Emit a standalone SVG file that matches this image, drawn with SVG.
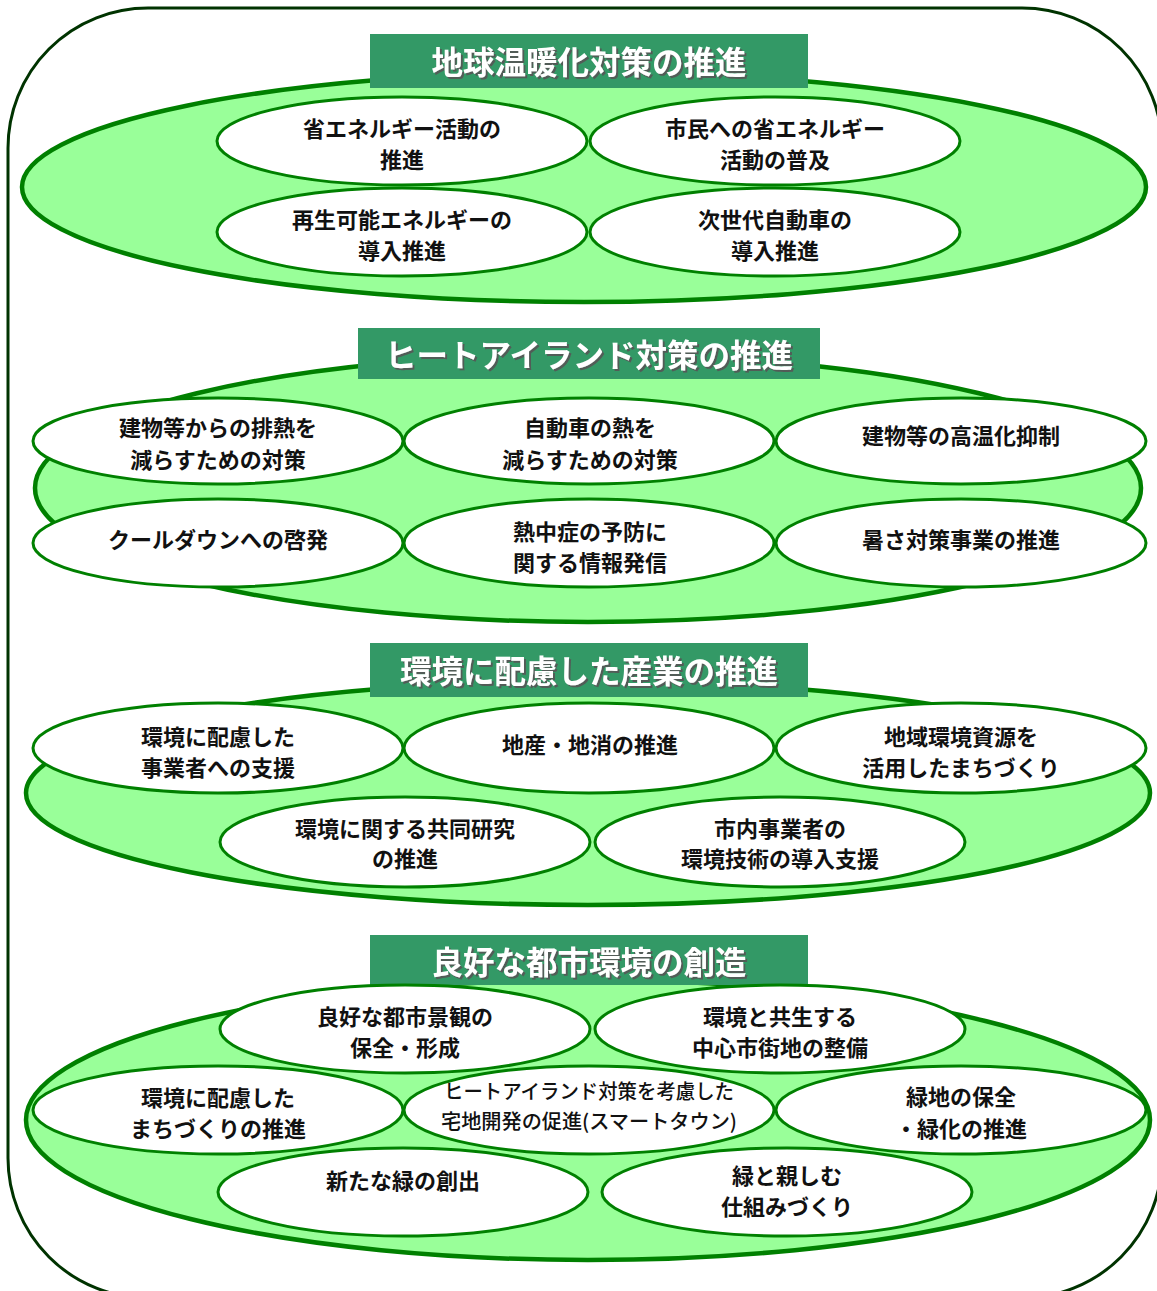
<svg xmlns="http://www.w3.org/2000/svg" width="1157" height="1291" viewBox="0 0 1157 1291">
<defs>
<filter id="sh" x="-10%" y="-30%" width="120%" height="160%">
<feDropShadow dx="2" dy="2" stdDeviation="0.6" flood-color="#555555" flood-opacity="0.9"/>
</filter>
<style>
.frame{fill:#ffffff;stroke:#003300;stroke-width:3}
.big{fill:#99ff99;stroke:#008000;stroke-width:4.5}
.in{fill:#ffffff;stroke:#008000;stroke-width:3}
.bar{fill:#339966}
.tt{font-family:"Noto Sans CJK JP","Noto Sans CJK SC",sans-serif;font-size:31.5px;font-weight:bold;fill:#ffffff;text-anchor:middle;dominant-baseline:central;filter:url(#sh)}
.t{font-family:"Noto Sans CJK JP","Noto Sans CJK SC",sans-serif;font-size:22px;font-weight:bold;fill:#111111;text-anchor:middle;dominant-baseline:central}
.tn{font-family:"Noto Sans CJK JP","Noto Sans CJK SC",sans-serif;font-size:20px;font-weight:500;fill:#111111;text-anchor:middle;dominant-baseline:central}
</style>
</defs>
<rect width="1157" height="1291" fill="#ffffff"/>
<rect class="frame" x="8" y="8" width="1154" height="1290" rx="140" ry="140"/>

<g id="section1">
<ellipse class="big" cx="584" cy="187" rx="562" ry="115"/>
<g id="bar1"><rect class="bar" x="370" y="34" width="438" height="54"/><text class="tt" x="589" y="60">地球温暖化対策の推進</text></g>
<g id="n1-1"><ellipse class="in" cx="402" cy="141" rx="185" ry="44"/><text class="t" x="402" y="127">省エネルギー活動の</text><text class="t" x="402" y="158">推進</text></g>
<g id="n1-2"><ellipse class="in" cx="775" cy="141" rx="185" ry="44"/><text class="t" x="775" y="127">市民への省エネルギー</text><text class="t" x="775" y="158">活動の普及</text></g>
<g id="n1-3"><ellipse class="in" cx="402" cy="232" rx="185" ry="44"/><text class="t" x="402" y="218">再生可能エネルギーの</text><text class="t" x="402" y="249">導入推進</text></g>
<g id="n1-4"><ellipse class="in" cx="775" cy="232" rx="185" ry="44"/><text class="t" x="775" y="218">次世代自動車の</text><text class="t" x="775" y="249">導入推進</text></g>
</g>

<g id="section2">
<ellipse class="big" cx="588" cy="488" rx="553" ry="134"/>
<g id="bar2"><rect class="bar" x="358" y="328" width="462" height="51"/><text class="tt" x="589" y="353">ヒートアイランド対策の推進</text></g>
<g id="n2-1"><ellipse class="in" cx="218" cy="441" rx="185" ry="43"/><text class="t" x="218" y="426">建物等からの排熱を</text><text class="t" x="218" y="458">減らすための対策</text></g>
<g id="n2-2"><ellipse class="in" cx="589" cy="441" rx="185" ry="43"/><text class="t" x="590" y="426">自動車の熱を</text><text class="t" x="590" y="458">減らすための対策</text></g>
<g id="n2-3"><ellipse class="in" cx="961" cy="441" rx="185" ry="43"/><text class="t" x="961" y="434">建物等の高温化抑制</text></g>
<g id="n2-4"><ellipse class="in" cx="218" cy="543" rx="185" ry="44"/><text class="t" x="218" y="538">クールダウンへの啓発</text></g>
<g id="n2-5"><ellipse class="in" cx="589" cy="543" rx="185" ry="44"/><text class="t" x="590" y="530">熱中症の予防に</text><text class="t" x="590" y="561">関する情報発信</text></g>
<g id="n2-6"><ellipse class="in" cx="961" cy="543" rx="185" ry="44"/><text class="t" x="961" y="538">暑さ対策事業の推進</text></g>
</g>

<g id="section3">
<ellipse class="big" cx="588" cy="793" rx="562" ry="112"/>
<g id="bar3"><rect class="bar" x="370" y="643" width="438" height="54"/><text class="tt" x="589" y="669">環境に配慮した産業の推進</text></g>
<g id="n3-1"><ellipse class="in" cx="218" cy="748" rx="185" ry="45"/><text class="t" x="218" y="735">環境に配慮した</text><text class="t" x="218" y="766">事業者への支援</text></g>
<g id="n3-2"><ellipse class="in" cx="589" cy="748" rx="185" ry="45"/><text class="t" x="590" y="743">地産・地消の推進</text></g>
<g id="n3-3"><ellipse class="in" cx="961" cy="748" rx="185" ry="45"/><text class="t" x="961" y="735">地域環境資源を</text><text class="t" x="961" y="766">活用したまちづくり</text></g>
<g id="n3-4"><ellipse class="in" cx="405" cy="842" rx="185" ry="45"/><text class="t" x="405" y="827">環境に関する共同研究</text><text class="t" x="405" y="857">の推進</text></g>
<g id="n3-5"><ellipse class="in" cx="780" cy="842" rx="185" ry="45"/><text class="t" x="780" y="827">市内事業者の</text><text class="t" x="780" y="857">環境技術の導入支援</text></g>
</g>

<g id="section4">
<ellipse class="big" cx="588" cy="1120" rx="562" ry="140"/>
<g id="bar4"><rect class="bar" x="370" y="935" width="438" height="50"/><text class="tt" x="589" y="960">良好な都市環境の創造</text></g>
<g id="n4-1"><ellipse class="in" cx="405" cy="1029" rx="185" ry="44"/><text class="t" x="405" y="1015">良好な都市景観の</text><text class="t" x="405" y="1046">保全・形成</text></g>
<g id="n4-2"><ellipse class="in" cx="780" cy="1029" rx="185" ry="44"/><text class="t" x="780" y="1015">環境と共生する</text><text class="t" x="780" y="1046">中心市街地の整備</text></g>
<g id="n4-6"><ellipse class="in" cx="403" cy="1192" rx="185" ry="44"/><text class="t" x="403" y="1179">新たな緑の創出</text></g>
<g id="n4-7"><ellipse class="in" cx="787" cy="1192" rx="185" ry="44"/><text class="t" x="787" y="1174">緑と親しむ</text><text class="t" x="787" y="1205">仕組みづくり</text></g>
<g id="n4-3"><ellipse class="in" cx="218" cy="1110" rx="185" ry="44"/><text class="t" x="218" y="1096">環境に配慮した</text><text class="t" x="218" y="1127">まちづくりの推進</text></g>
<g id="n4-4"><ellipse class="in" cx="589" cy="1110" rx="185" ry="44"/><text class="tn" x="589" y="1090" textLength="290" lengthAdjust="spacingAndGlyphs">ヒートアイランド対策を考慮した</text><text class="tn" x="589" y="1120" textLength="296" lengthAdjust="spacingAndGlyphs">宅地開発の促進(スマートタウン)</text></g>
<g id="n4-5"><ellipse class="in" cx="961" cy="1110" rx="185" ry="44"/><text class="t" x="961" y="1095">緑地の保全</text><text class="t" x="961" y="1127">・緑化の推進</text></g>
</g>
<g id="connectors"/>
</svg>
